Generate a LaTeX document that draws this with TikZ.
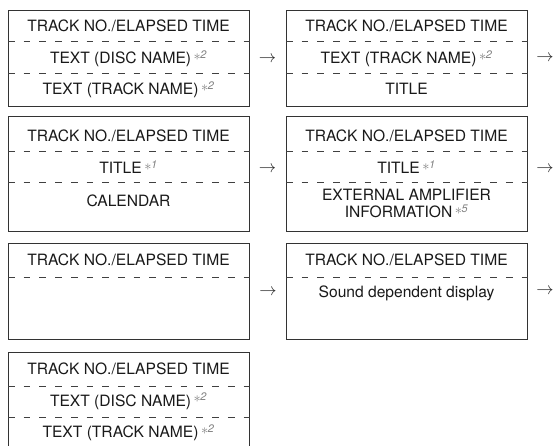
\documentclass[tikz,border=0pt]{standalone}
\usepackage{fontspec}
\setmainfont{TeX Gyre Heros}
\usepackage{xcolor}
\usetikzlibrary{calc}

% small grey footnote mark after an entry
\newcommand{\starref}[1]{\,{\color{black!50}\raisebox{3.2pt}{$\ast$}\kern-0.5pt\textsuperscript{\itshape #1}}}

\begin{document}
\begin{tikzpicture}[
  x=1pt,y=-1pt,
  panel/.style={draw=black!80,line width=1pt,minimum width=241pt,inner sep=0pt,anchor=north west},
  divider/.style={draw=black!75,line width=1pt,dash pattern=on 6.7pt off 9pt},
  entry/.style={font=\fontsize{15.6}{17.5}\selectfont,text=black!90,inner sep=0pt,text height=11pt,text depth=0pt},
  twoline/.style={font=\fontsize{15.6}{17.5}\selectfont,text=black!90,inner sep=0pt,align=center},
  nextmark/.style={font=\fontsize{19}{19}\selectfont,text=black!85,inner sep=0pt}
]
  \useasboundingbox (0,0) rectangle (556,446);

  % boxes
  \node[panel,minimum height=96pt]  (b1) at (8,10)   {};
  \node[panel,minimum height=96pt]  (b2) at (286,10) {};
  \node[panel,minimum height=115pt] (b3) at (8,116)  {};
  \node[panel,minimum height=115pt] (b4) at (286,116) {};
  \node[panel,minimum height=96pt]  (b5) at (8,243)  {};
  \node[panel,minimum height=96pt]  (b6) at (286,243) {};
  \node[panel,minimum height=110pt] (b7) at (8,352)  {};

  % dashed dividers
  \draw[divider] ($(b1.north west)+(0,32)$) -- ($(b1.north east)+(0,32)$);
  \draw[divider] ($(b1.north west)+(0,64)$) -- ($(b1.north east)+(0,64)$);
  \draw[divider] ($(b2.north west)+(0,32)$) -- ($(b2.north east)+(0,32)$);
  \draw[divider] ($(b2.north west)+(0,64)$) -- ($(b2.north east)+(0,64)$);
  \draw[divider] ($(b3.north west)+(0,36)$) -- ($(b3.north east)+(0,36)$);
  \draw[divider] ($(b3.north west)+(0,67)$) -- ($(b3.north east)+(0,67)$);
  \draw[divider] ($(b4.north west)+(0,36)$) -- ($(b4.north east)+(0,36)$);
  \draw[divider] ($(b4.north west)+(0,67)$) -- ($(b4.north east)+(0,67)$);
  \draw[divider] ($(b5.north west)+(0,34)$) -- ($(b5.north east)+(0,34)$);
  \draw[divider] ($(b6.north west)+(0,34)$) -- ($(b6.north east)+(0,34)$);
  \draw[divider] ($(b7.north west)+(0,34)$) -- ($(b7.north east)+(0,34)$);
  \draw[divider] ($(b7.north west)+(0,65)$) -- ($(b7.north east)+(0,65)$);

  % entries
  \node[entry] (t1a) at (128.5,26)  {TRACK NO./ELAPSED TIME};
  \node[entry] (t1b) at (128.5,58)  {TEXT (DISC NAME)\starref{2}};
  \node[entry] (t1c) at (128.5,89.5) {TEXT (TRACK NAME)\starref{2}};

  \node[entry] (t2a) at (406.5,26)  {TRACK NO./ELAPSED TIME};
  \node[entry] (t2b) at (406.5,58)  {TEXT (TRACK NAME)\starref{2}};
  \node[entry] (t2c) at (406.5,89.5) {TITLE};

  \node[entry] (t3a) at (128.5,136) {TRACK NO./ELAPSED TIME};
  \node[entry] (t3b) at (128.5,168) {TITLE\starref{1}};
  \node[entry] (t3c) at (128.5,201.5) {CALENDAR};

  \node[entry] (t4a) at (406.5,136) {TRACK NO./ELAPSED TIME};
  \node[entry] (t4b) at (406.5,168) {TITLE\starref{1}};
  \node[twoline] (t4c) at (406.5,203.5) {EXTERNAL AMPLIFIER\\INFORMATION\starref{5}};

  \node[entry] (t5a) at (128.5,260) {TRACK NO./ELAPSED TIME};

  \node[entry] (t6a) at (406.5,260) {TRACK NO./ELAPSED TIME};
  \node[entry] (t6b) at (406.5,291.5) {Sound dependent display};

  \node[entry] (t7a) at (128.5,369) {TRACK NO./ELAPSED TIME};
  \node[entry] (t7b) at (128.5,400.5) {TEXT (DISC NAME)\starref{2}};
  \node[entry] (t7c) at (128.5,432) {TEXT (TRACK NAME)\starref{2}};

  % next-screen marks
  \node[nextmark] (m1) at (267.5,59)  {$\rightarrow$};
  \node[nextmark] (m2) at (545,58)    {$\rightarrow$};
  \node[nextmark] (m3) at (267.5,169) {$\rightarrow$};
  \node[nextmark] (m4) at (545,169)   {$\rightarrow$};
  \node[nextmark] (m5) at (268,292)   {$\rightarrow$};
  \node[nextmark] (m6) at (545,291)   {$\rightarrow$};
\end{tikzpicture}
\end{document}
